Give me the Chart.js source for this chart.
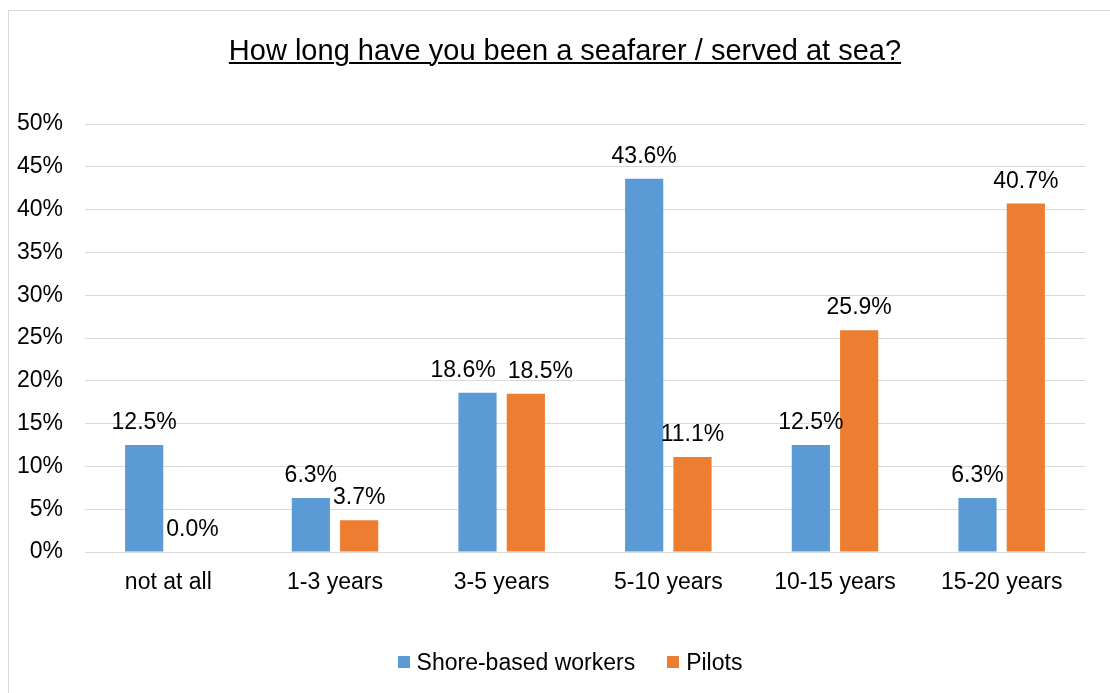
<!DOCTYPE html>
<html>
<head>
<meta charset="utf-8">
<script src="https://cdn.jsdelivr.net/npm/chart.js@4/dist/chart.umd.min.js"></script>
<style>
  html, body { margin: 0; padding: 0; background: #fff; font-family: 'Liberation Sans', Arial, sans-serif; color: #000; }
  #frame { position: absolute; left: 8px; top: 10px; width: 1110px; height: 690px; border: 1px solid #d9d9d9; }
  #wrap { position: absolute; left: 0; top: 0; width: 1110px; height: 693px; }
  #title {
    position: absolute; left: 0; top: 33px; width: 1130px; margin: 0;
    text-align: center; font-size: 29px; font-weight: normal; line-height: 34px;
    text-decoration: underline; text-decoration-thickness: 2px; text-underline-offset: 2px;
  }
  #legend {
    position: absolute; left: 0; top: 648px; width: 1140px; height: 28px;
    display: flex; justify-content: center; align-items: center;
    font-size: 23px; line-height: 28px;
  }
  #legend .item { display: flex; align-items: center; margin: 0 16px; }
  #legend .box { width: 12px; height: 12px; margin-right: 7px; }
</style>
</head>
<body>
<div id="frame"></div>
<div id="wrap"><canvas id="canvas" width="1110" height="693"></canvas></div>
<h1 id="title">How long have you been a seafarer / served at sea?</h1>
<div id="legend"></div>
<script>
const categories = ["not at all", "1-3 years", "3-5 years", "5-10 years", "10-15 years", "15-20 years"];
const shoreBased = [12.5, 6.3, 18.6, 43.6, 12.5, 6.3];
const pilots = [0.0, 3.7, 18.5, 11.1, 25.9, 40.7];
const yTicks = [0, 5, 10, 15, 20, 25, 30, 35, 40, 45, 50];

const FONT = "'Liberation Sans', Arial, sans-serif";

// value labels above each bar; labels of the same group that would collide get pushed apart
const barLabels = {
  id: "barLabels",
  afterDatasetsDraw(chart) {
    const ctx = chart.ctx;
    ctx.save();
    ctx.font = "23px " + FONT;
    ctx.fillStyle = "#000";
    ctx.textAlign = "center";
    ctx.textBaseline = "alphabetic";
    const gap = 12;
    chart.data.labels.forEach((_, j) => {
      const items = chart.data.datasets.map((ds, i) => {
        const bar = chart.getDatasetMeta(i).data[j];
        const text = ds.data[j].toFixed(1) + "%";
        return { text, x: bar.x, y: bar.y - 16, w: ctx.measureText(text).width };
      });
      for (let k = 1; k < items.length; k++) {
        const a = items[k - 1], b = items[k];
        const overlap = (a.x + a.w / 2 + gap) - (b.x - b.w / 2);
        if (overlap > 0 && Math.abs(a.y - b.y) < 20) {
          a.x -= overlap / 2;
          b.x += overlap / 2;
        }
      }
      items.forEach(it => ctx.fillText(it.text, it.x, it.y));
    });
    ctx.restore();
  }
};

// legend built from the datasets
const htmlLegend = {
  id: "htmlLegend",
  afterUpdate(chart) {
    const el = document.getElementById("legend");
    el.innerHTML = "";
    chart.data.datasets.forEach(ds => {
      const item = document.createElement("span");
      item.className = "item";
      const box = document.createElement("span");
      box.className = "box";
      box.style.background = ds.backgroundColor;
      item.appendChild(box);
      item.appendChild(document.createTextNode(ds.label));
      el.appendChild(item);
    });
  }
};

new Chart("canvas", {
  type: "bar",
  data: {
    labels: categories,
    datasets: [
      {
        label: "Shore-based workers",
        data: shoreBased,
        backgroundColor: "#5B9BD5",
        categoryPercentage: 0.58,
        barPercentage: 0.79,
      },
      {
        label: "Pilots",
        data: pilots,
        backgroundColor: "#ED7D31",
        categoryPercentage: 0.58,
        barPercentage: 0.79,
      },
    ],
  },
  options: {
    responsive: false,
    animation: false,
    layout: { padding: { left: 0, right: 25, top: 124, bottom: 0 } },
    plugins: {
      title: { display: false },
      legend: { display: false },
      tooltip: { enabled: false },
    },
    scales: {
      x: {
        afterFit(scale) { scale.height = 141; },
        grid: { display: false, drawTicks: false },
        border: { color: "#d9d9d9" },
        ticks: { color: "#000", font: { family: FONT, size: 23 }, padding: 17 },
      },
      y: {
        min: 0,
        max: 50,
        afterFit(scale) { scale.width = 85; },
        afterBuildTicks(scale) { scale.ticks = yTicks.map(v => ({ value: v })); },
        grid: { color: "#d9d9d9", drawTicks: false },
        border: { display: false },
        ticks: {
          color: "#000",
          font: { family: FONT, size: 23 },
          padding: 22,
          callback: v => v + "%",
        },
      },
    },
  },
  plugins: [barLabels, htmlLegend],
});
</script>
</body>
</html>
